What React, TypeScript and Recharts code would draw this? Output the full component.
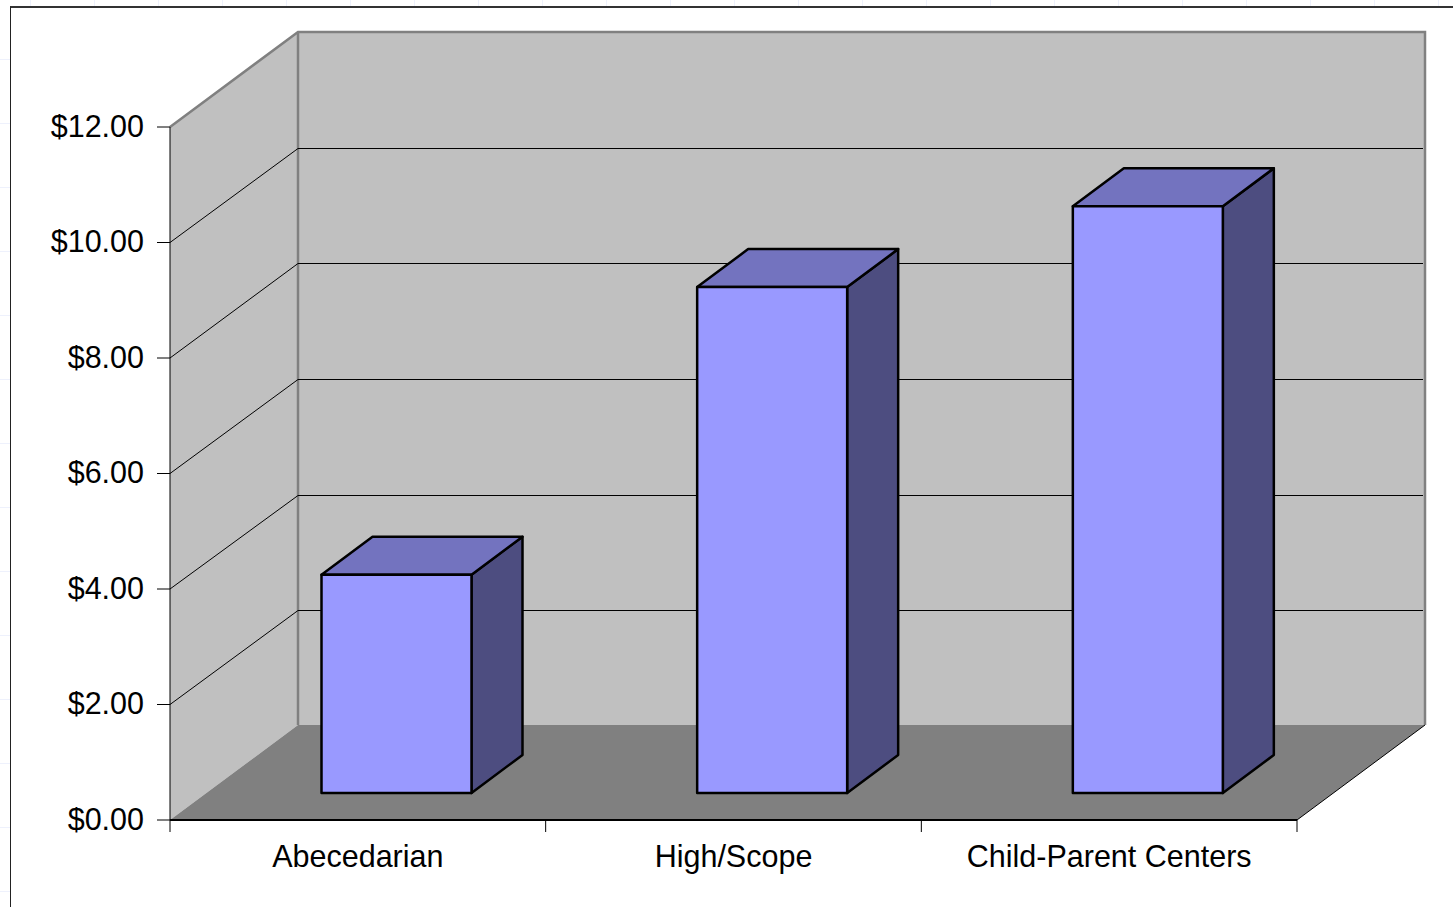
import { Bar, BarChart, CartesianGrid, XAxis, YAxis } from "recharts";

const categories = ["Abecedarian", "High/Scope", "Child-Parent Centers"];
const returns = [3.78, 8.76, 10.16];
const yTicks = [0, 2, 4, 6, 8, 10, 12];

const WIDTH = 1453;
const HEIGHT = 907;
const FONT = '"Liberation Sans", Arial, sans-serif';

// front plane of the plot box
const PLOT = { left: 170, right: 1297, top: 127, bottom: 820 };
// how far the back wall sits up and to the right of the front plane
const WALL_DX = 128;
const WALL_DY = -95;
// bars stand part way into the floor, and have their own depth
const BAR_DX = 38.5;
const BAR_DY = -27;
const DEPTH_DX = 51;
const DEPTH_DY = -38;

const data = categories.map((name, i) => ({ name, value: returns[i] }));
const halfBand = (PLOT.right - PLOT.left) / categories.length / 2;

const pts = (list: number[][]) => list.map((p) => p.join(",")).join(" ");

function Walls() {
  const { left, right, top, bottom } = PLOT;
  const backLeft = left + WALL_DX;
  const backRight = right + WALL_DX;
  const backTop = top + WALL_DY;
  const backBottom = bottom + WALL_DY;
  return (
    <g>
      <polygon points={pts([[backLeft, backTop], [backRight, backTop], [backRight, backBottom], [backLeft, backBottom]])} fill="#c0c0c0" />
      <polygon points={pts([[left, top], [backLeft, backTop], [backLeft, backBottom], [left, bottom]])} fill="#c0c0c0" />
      <polygon points={pts([[left, bottom], [backLeft, backBottom], [backRight, backBottom], [right, bottom]])} fill="#808080" />
      <polyline points={pts([[left, top], [backLeft, backTop], [backRight, backTop], [backRight, backBottom]])} fill="none" stroke="#808080" strokeWidth={2.5} />
      <line x1={backLeft} y1={backTop} x2={backLeft} y2={backBottom} stroke="#808080" strokeWidth={2.5} />
      <line x1={right} y1={bottom} x2={backRight} y2={backBottom} stroke="#000" strokeWidth={1} />
    </g>
  );
}

// gridline that runs up the side wall and then across the back wall
function SkewedGridLine({ x1, y1, x2, y2 }: any) {
  if (y1 >= PLOT.bottom - 1 || y1 <= PLOT.top + 1) return <g />;
  // snap the long back-wall run to a pixel row so it stays crisp
  const backY = Math.ceil(y2 + WALL_DY) + 0.5;
  return (
    <polyline
      points={pts([[x1, y1], [x1 + WALL_DX, backY], [x2 + WALL_DX - 2, backY]])}
      fill="none"
      stroke="#000"
      strokeWidth={1}
    />
  );
}

function Box3D({ x, y, width, height }: any) {
  const l = x + BAR_DX;
  const r = l + width;
  const t = y + BAR_DY;
  const b = t + height;
  return (
    <g stroke="#000" strokeWidth={2.5} strokeLinejoin="round">
      <polygon points={pts([[r, t], [r + DEPTH_DX, t + DEPTH_DY], [r + DEPTH_DX, b + DEPTH_DY], [r, b]])} fill="#4d4d80" />
      <polygon points={pts([[l, t], [l + DEPTH_DX, t + DEPTH_DY], [r + DEPTH_DX, t + DEPTH_DY], [r, t]])} fill="#7373bf" />
      <rect x={l} y={t} width={width} height={height} fill="#9999ff" />
    </g>
  );
}

// tick marks fall on the band edges, labels stay centred in the band
function CategoryTick({ x, y, payload, index }: any) {
  const axisY = PLOT.bottom;
  return (
    <g>
      <line x1={x - halfBand} y1={axisY} x2={x - halfBand} y2={axisY + 12} stroke="#000" strokeWidth={1} />
      {index === categories.length - 1 && (
        <line x1={x + halfBand} y1={axisY} x2={x + halfBand} y2={axisY + 12} stroke="#000" strokeWidth={1} />
      )}
      <text x={x} y={y + 39} textAnchor="middle" fontSize={30.5} fontFamily={FONT} fill="#000">
        {payload.value}
      </text>
    </g>
  );
}

export default function App() {
  return (
    <div
      style={{
        position: "absolute",
        left: 0,
        top: 0,
        width: WIDTH,
        height: HEIGHT,
        overflow: "hidden",
        background: "#fff",
        backgroundImage:
          "linear-gradient(#eef1fc 1px, transparent 1px), linear-gradient(90deg, #eef1fc 1px, transparent 1px)",
        backgroundSize: "64px 64px",
        backgroundPosition: "30px 59px",
      }}
    >
      <div
        style={{
          position: "absolute",
          left: 10,
          top: 6,
          width: WIDTH,
          height: HEIGHT,
          background: "#fff",
          borderTop: "2px solid #333",
          borderLeft: "1.5px solid #222",
        }}
      />
      <div style={{ position: "absolute", left: 0, top: 0 }}>
        <BarChart
          width={WIDTH}
          height={HEIGHT}
          data={data}
          barSize={150}
          margin={{ top: PLOT.top, right: WIDTH - PLOT.right, bottom: 0, left: 0 }}
        >
          <Walls />
          <CartesianGrid vertical={false} horizontal={SkewedGridLine as any} zIndex={1} />
          <XAxis
            dataKey="name"
            height={HEIGHT - PLOT.bottom}
            interval={0}
            tickLine={false}
            axisLine={{ stroke: "#000", strokeWidth: 2 }}
            tick={CategoryTick as any}
          />
          <YAxis
            width={PLOT.left}
            domain={[0, 12]}
            ticks={yTicks}
            interval={0}
            tickSize={13}
            tickMargin={13}
            axisLine={{ stroke: "#000", strokeWidth: 1 }}
            tickLine={{ stroke: "#000", strokeWidth: 1 }}
            tick={{ fontSize: 30.5, fontFamily: FONT, fill: "#000", dy: -1 }}
            tickFormatter={(v: number) => `$${v.toFixed(2)}`}
          />
          <Bar dataKey="value" shape={Box3D as any} isAnimationActive={false} />
        </BarChart>
      </div>
    </div>
  );
}
